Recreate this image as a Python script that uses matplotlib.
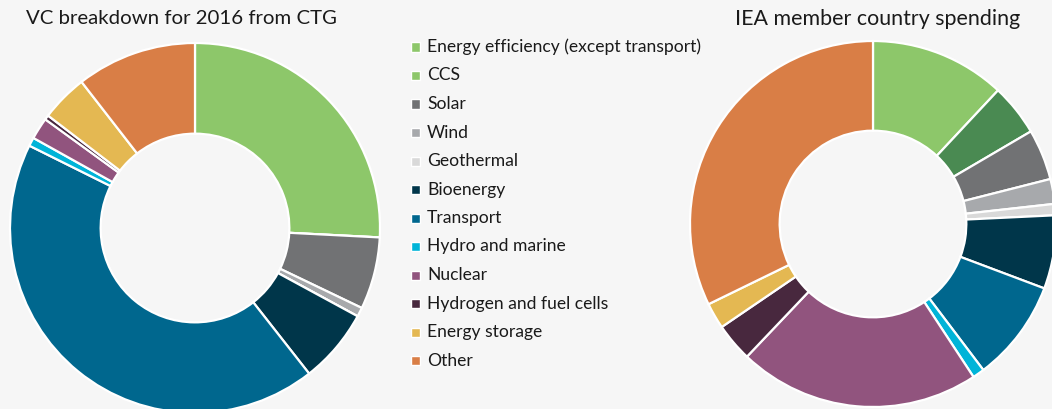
import matplotlib.pyplot as plt
from matplotlib.patches import Rectangle

plt.rcParams["font.family"] = ["Lato", "DejaVu Sans"]

categories = [
    "Energy efficiency (except transport)", "CCS", "Solar", "Wind",
    "Geothermal", "Bioenergy", "Transport", "Hydro and marine",
    "Nuclear", "Hydrogen and fuel cells", "Energy storage", "Other",
]
colors = [
    "#8DC76A", "#4A8A52", "#717274", "#A7A9AC",
    "#D9D9D9", "#00364A", "#00678E", "#00B4D8",
    "#91547E", "#48283E", "#E4B852", "#D97E46",
]
# legend swatches (CCS shown in the same green as efficiency)
legend_colors = colors[:1] + ["#8DC76A"] + colors[2:]

# shares in percent
vc_2016 = [25.8, 0.0, 6.3, 0.8, 0.0, 6.5, 42.9, 0.75, 1.9, 0.4, 4.1, 10.5]
iea_spending = [12.0, 4.6, 4.5, 2.2, 1.0, 6.5, 9.0, 1.05, 21.4, 3.4, 2.3, 32.3]

W, H = 1052, 409
fig = plt.figure(figsize=(W / 100, H / 100), dpi=100)
fig.patch.set_facecolor("#F6F6F6")


def donut(cx, cy, r, values, title, tx, tsize):
    ax = fig.add_axes([(cx - r) / W, (H - cy - r) / H, 2 * r / W, 2 * r / H])
    vals = [v if v > 0 else 1e-9 for v in values]
    ax.pie(vals, colors=colors, startangle=90, counterclock=False,
           radius=1, wedgeprops=dict(width=0.49, edgecolor="white", linewidth=1.6))
    ax.set_xlim(-1, 1)
    ax.set_ylim(-1, 1)
    ax.set_aspect("equal")
    ax.axis("off")
    for w in ax.patches:
        w.set_clip_on(False)
    fig.text(tx / W, 1 - 19 / H, title, fontsize=tsize, color="#1a1a1a",
             ha="center", va="center")


donut(195, 228, 185, vc_2016, "VC breakdown for 2016 from CTG", 181, 14.7)
donut(873, 224, 183, iea_spending, "IEA member country spending", 878, 15.4)

# legend in the middle
for i, (lab, c) in enumerate(zip(categories, legend_colors)):
    y = 47 + i * 28.5
    fig.add_artist(Rectangle((411 / W, 1 - (y + 4.5) / H), 9 / W, 9 / H,
                             transform=fig.transFigure, facecolor=c,
                             edgecolor="white", linewidth=1))
    fig.text(427 / W, 1 - y / H, lab, fontsize=12.6, color="#1a1a1a",
             ha="left", va="center")

fig.savefig("out.png", dpi=100, facecolor=fig.get_facecolor())
